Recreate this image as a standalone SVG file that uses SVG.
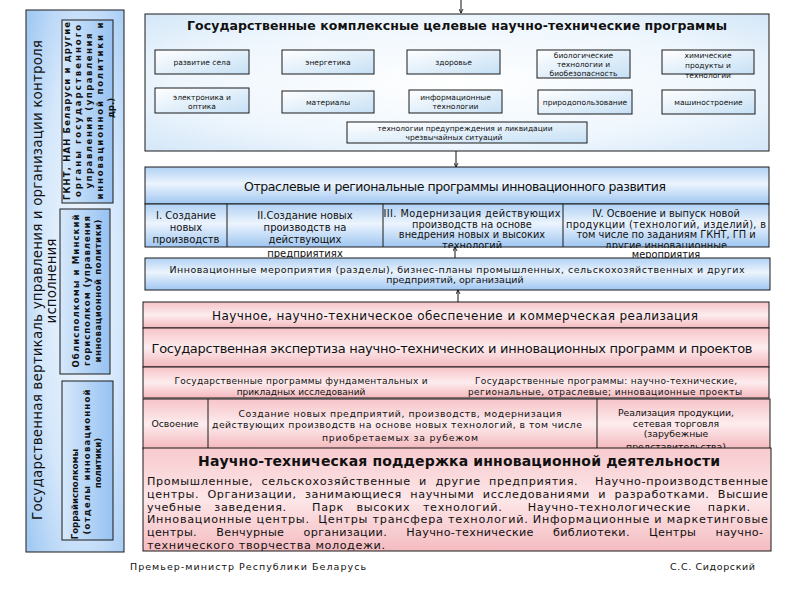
<svg xmlns="http://www.w3.org/2000/svg" width="800" height="600" viewBox="0 0 800 600">
<defs>
<style>
text { font-family: "DejaVu Sans", "Liberation Sans", sans-serif; fill: #111; }
.b { font-weight: bold; }
.m { text-anchor: middle; }
.pre { white-space: pre; }
.box { stroke: #1a1a1a; stroke-width: 1; }
.s7 { font-size: 7.5px; }
.conn { stroke: #111; stroke-width: 1; fill: none; }
</style>
<radialGradient id="gOuter" cx="0.55" cy="0.5" r="0.7">
<stop offset="0" stop-color="#f2f8fe"/>
<stop offset="0.6" stop-color="#d4e7fb"/>
<stop offset="1" stop-color="#a4caf3"/>
</radialGradient>
<linearGradient id="gInner" x1="0" y1="0" x2="1" y2="0">
<stop offset="0" stop-color="#d6e8fb"/>
<stop offset="1" stop-color="#97c2f1"/>
</linearGradient>
<radialGradient id="gTop" cx="0.5" cy="0.5" r="0.75">
<stop offset="0" stop-color="#ffffff"/>
<stop offset="0.6" stop-color="#eef6fd"/>
<stop offset="1" stop-color="#cfe4f7"/>
</radialGradient>
<linearGradient id="gSmall" x1="0" y1="0" x2="1" y2="1">
<stop offset="0" stop-color="#ffffff"/>
<stop offset="1" stop-color="#c6e0f5"/>
</linearGradient>
<linearGradient id="gBand" x1="0" y1="0" x2="0" y2="1">
<stop offset="0" stop-color="#b0d1f4"/>
<stop offset="0.45" stop-color="#ecf4fd"/>
<stop offset="1" stop-color="#9fc6f1"/>
</linearGradient>
<linearGradient id="gPink" x1="0" y1="0" x2="0" y2="1">
<stop offset="0" stop-color="#f6c4c8"/>
<stop offset="0.5" stop-color="#fdecee"/>
<stop offset="1" stop-color="#f3b8bd"/>
</linearGradient>
<linearGradient id="gPinkB" x1="0" y1="0" x2="0" y2="1">
<stop offset="0" stop-color="#f7cace"/>
<stop offset="0.5" stop-color="#fde6e8"/>
<stop offset="1" stop-color="#f4bcc1"/>
</linearGradient>
<clipPath id="clipRow"><rect x="380" y="200" width="392" height="48"/></clipPath>
<marker id="ah" viewBox="0 0 8 8" refX="7" refY="4" markerWidth="5" markerHeight="5" orient="auto">
<path d="M0,0.5 L7,4 L0,7.5" fill="none" stroke="#111" stroke-width="1.4"/>
</marker>
</defs>
<rect width="800" height="600" fill="#ffffff"/>

<g id="vertical-control">
<rect class="box" x="26" y="10" width="98" height="542" fill="url(#gOuter)"/>
<text transform="translate(42,280) rotate(-90)" class="m" font-size="13.5" textLength="480" lengthAdjust="spacing">Государственная вертикаль управления и организации контроля</text>
<text transform="translate(56,281) rotate(-90)" class="m" font-size="13.5">исполнения</text>
</g>

<g id="gknt">
<rect class="box" x="62" y="20" width="51" height="183" fill="url(#gInner)"/>
<g class="b m" font-size="8.5">
<text transform="translate(70,111) rotate(-90)" textLength="178" lengthAdjust="spacing">ГКНТ, НАН Беларуси и другие</text>
<text transform="translate(81,111) rotate(-90)" textLength="172" lengthAdjust="spacing">органы государственного</text>
<text transform="translate(92,111) rotate(-90)" textLength="155" lengthAdjust="spacing">управления (управления</text>
<text transform="translate(103,111) rotate(-90)" textLength="177" lengthAdjust="spacing">инновационной политики и</text>
<text transform="translate(114,108) rotate(-90)">др.)</text>
</g>
</g>

<g id="oblispolkomy">
<rect class="box" x="60" y="209" width="50" height="165" fill="url(#gInner)"/>
<g class="b m" font-size="8.5">
<text transform="translate(79,291) rotate(-90)" textLength="153" lengthAdjust="spacing">Облисполкомы и Минский</text>
<text transform="translate(90,291) rotate(-90)" textLength="150" lengthAdjust="spacing">горисполком (управления</text>
<text transform="translate(101,291) rotate(-90)" textLength="143" lengthAdjust="spacing">инновационной политики)</text>
</g>
</g>

<g id="gorraiispolkomy">
<rect class="box" x="62" y="381" width="51" height="159" fill="url(#gInner)"/>
<g class="b m" font-size="8.5">
<text transform="translate(78,494) rotate(-90)">Горрайисполкомы</text>
<text transform="translate(90,462) rotate(-90)" textLength="145" lengthAdjust="spacing">(отделы инновационной</text>
<text transform="translate(101,463) rotate(-90)">политики)</text>
</g>
</g>

<g id="gknt-programs">
<rect class="box" x="145" y="14" width="624" height="137" fill="url(#gTop)"/>
<text class="b m" x="457" y="30" font-size="12.5" textLength="540" lengthAdjust="spacing">Государственные комплексные целевые научно-технические программы</text>
<g class="s7 m">
<rect class="box" x="155" y="50" width="94" height="24" fill="url(#gSmall)"/>
<text x="202" y="64.5">развитие села</text>
<rect class="box" x="282" y="50" width="92" height="24" fill="url(#gSmall)"/>
<text x="328" y="64.5">энергетика</text>
<rect class="box" x="407" y="50" width="93" height="24" fill="url(#gSmall)"/>
<text x="453.5" y="64.5">здоровье</text>
<rect class="box" x="537" y="50" width="93" height="28" fill="url(#gSmall)"/>
<text x="583.5" y="58">биологические</text>
<text x="583.5" y="66.5">технологии и</text>
<text x="583.5" y="75.5">биобезопасность</text>
<rect class="box" x="662" y="50" width="92" height="24" fill="url(#gSmall)"/>
<text x="708" y="57.5">химические</text>
<text x="708" y="67.5">продукты и</text>
<text x="708" y="77.5">технологии</text>
<rect class="box" x="155" y="88" width="94" height="25" fill="url(#gSmall)"/>
<text x="202" y="99.5">электроника и</text>
<text x="202" y="108.5">оптика</text>
<rect class="box" x="282" y="91" width="92" height="22" fill="url(#gSmall)"/>
<text x="328" y="104.5">материалы</text>
<rect class="box" x="409" y="90" width="93" height="23" fill="url(#gSmall)"/>
<text x="455.5" y="99.5">информационные</text>
<text x="455.5" y="108.5">технологии</text>
<rect class="box" x="538" y="90" width="94" height="24" fill="url(#gSmall)"/>
<text x="585" y="104.5">природопользование</text>
<rect class="box" x="662" y="90" width="93" height="24" fill="url(#gSmall)"/>
<text x="708.5" y="104.5">машиностроение</text>
<rect class="box" x="347" y="122" width="240" height="21" fill="url(#gSmall)"/>
<text x="465" y="130.5">технологии предупреждения и ликвидации</text>
<text x="454" y="140">чрезвычайных ситуаций</text>
</g>
</g>

<g id="sector-programs">
<rect class="box" x="145" y="167" width="624" height="37" fill="url(#gBand)"/>
<text class="m" x="455" y="191" font-size="12.5" textLength="422" lengthAdjust="spacing">Отраслевые и региональные программы инновационного развития</text>
<rect class="box" x="145" y="204" width="624" height="43" fill="url(#gBand)"/>
<line class="box" x1="227" y1="204" x2="227" y2="247"/>
<line class="box" x1="383" y1="204" x2="383" y2="247"/>
<line class="box" x1="563" y1="204" x2="563" y2="247"/>
<g class="m" font-size="10">
<text x="186" y="219">I. Создание</text>
<text x="186" y="231">новых</text>
<text x="186" y="243">производств</text>
<text x="305" y="219">II.Создание новых</text>
<text x="305" y="231">производств на</text>
<text x="305" y="243">действующих</text>
<text x="305" y="256.5">предприятиях</text>
</g>
<g class="m" font-size="9.8">
<text x="472" y="217" textLength="177" lengthAdjust="spacing">III. Модернизация действующих</text>
<text x="472" y="227.5">производств на основе</text>
<text x="472" y="238">внедрения новых и высоких</text>
<text x="472" y="248.5" clip-path="url(#clipRow)">технологий</text>
<text x="666" y="217">IV. Освоение и выпуск новой</text>
<text x="666" y="227.5" textLength="200" lengthAdjust="spacing">продукции (технологий, изделий), в</text>
<text x="666" y="238">том числе по заданиям ГКНТ, ГП и</text>
<text x="666" y="248.5" clip-path="url(#clipRow)">другие инновационные</text>
<text x="666" y="258">мероприятия</text>
</g>
</g>

<g id="innovation-measures">
<rect class="box" x="145" y="258" width="625" height="32" fill="url(#gBand)"/>
<text class="m" x="457" y="272.5" font-size="9.5" textLength="575" lengthAdjust="spacing">Инновационные мероприятия (разделы), бизнес-планы промышленных, сельскохозяйственных и других</text>
<text class="m" x="455" y="283" font-size="9.5">предприятий, организаций</text>
</g>

<g id="science-support">
<rect class="box" x="143" y="302" width="626" height="26" fill="url(#gPink)"/>
<text class="m" x="455" y="320" font-size="12" textLength="486" lengthAdjust="spacing">Научное, научно-техническое обеспечение и коммерческая реализация</text>
</g>

<g id="expertise">
<rect class="box" x="143" y="328" width="626" height="39" fill="url(#gPink)"/>
<text class="m" x="452" y="352.5" font-size="13" textLength="601" lengthAdjust="spacing">Государственная экспертиза научно-технических и инновационных программ и проектов</text>
</g>

<g id="state-programs">
<rect class="box" x="143" y="367" width="626" height="31" fill="url(#gPink)"/>
<g class="m" font-size="9">
<text x="301" y="384" textLength="253" lengthAdjust="spacing">Государственные программы фундаментальных и</text>
<text x="301" y="395">прикладных исследований</text>
<text x="606" y="384" textLength="262" lengthAdjust="spacing">Государственные программы: научно-технические,</text>
<text x="605" y="395" textLength="274" lengthAdjust="spacing">региональные, отраслевые; инновационные проекты</text>
</g>
</g>

<g id="development">
<rect class="box" x="143" y="399" width="627" height="50" fill="url(#gPink)"/>
<line class="box" x1="208" y1="399" x2="208" y2="449"/>
<line class="box" x1="597" y1="399" x2="597" y2="449"/>
<g class="m" font-size="9.3">
<text x="175" y="426.5">Освоение</text>
<text x="400" y="416.5" textLength="323" lengthAdjust="spacing">Создание новых предприятий, производств, модернизация</text>
<text x="397" y="427.5" textLength="370" lengthAdjust="spacing">действующих производств на основе новых технологий, в том числе</text>
<text x="400" y="440.5" textLength="156" lengthAdjust="spacing">приобретаемых за рубежом</text>
<text x="676" y="415.5" textLength="116" lengthAdjust="spacing">Реализация продукции,</text>
<text x="676" y="426.5">сетевая торговля</text>
<text x="676" y="437">(зарубежные</text>
<text x="676" y="449.5">представительства)</text>
</g>
</g>

<g id="nt-support">
<rect class="box" x="143" y="448" width="628" height="103" fill="url(#gPinkB)"/>
<text class="b m" x="459" y="466" font-size="14" textLength="522" lengthAdjust="spacing">Научно-техническая поддержка инновационной деятельности</text>
<g font-size="11.2">
<text class="pre" xml:space="preserve" x="147" y="485" textLength="621" lengthAdjust="spacing">Промышленные,  сельскохозяйственные  и  другие  предприятия.    Научно-производственные</text>
<text class="pre" xml:space="preserve" x="147" y="497.8" textLength="621" lengthAdjust="spacing">центры.  Организации,  занимающиеся  научными  исследованиями  и  разработками.  Высшие</text>
<text class="pre" xml:space="preserve" x="147" y="510.6" textLength="603" lengthAdjust="spacing">учебные   заведения.      Парк   высоких   технологий.      Научно-технологические    парки.</text>
<text class="pre" xml:space="preserve" x="147" y="523.4" textLength="621" lengthAdjust="spacing">Инновационные центры.  Центры трансфера технологий. Информационные и маркетинговые</text>
<text class="pre" xml:space="preserve" x="147" y="536.2" textLength="616" lengthAdjust="spacing">центры.     Венчурные     организации.     Научно-технические     библиотеки.     Центры     научно-</text>
<text x="147" y="549" textLength="238" lengthAdjust="spacing">технического творчества молодежи.</text>
</g>
</g>

<g id="connectors">
<line class="conn" x1="461" y1="0" x2="461" y2="13" marker-end="url(#ah)"/>
<line class="conn" x1="456" y1="151" x2="456" y2="167" marker-end="url(#ah)"/>
<line class="conn" x1="455" y1="258" x2="455" y2="247" marker-end="url(#ah)"/>
<line class="conn" x1="458" y1="302" x2="458" y2="290" marker-end="url(#ah)"/>
</g>

<g id="signatures">
<text x="130" y="570" font-size="9.5" textLength="236" lengthAdjust="spacing">Премьер-министр Республики Беларусь</text>
<text x="670" y="570" font-size="9.5" textLength="85" lengthAdjust="spacing">С.С. Сидорский</text>
</g>
</svg>
